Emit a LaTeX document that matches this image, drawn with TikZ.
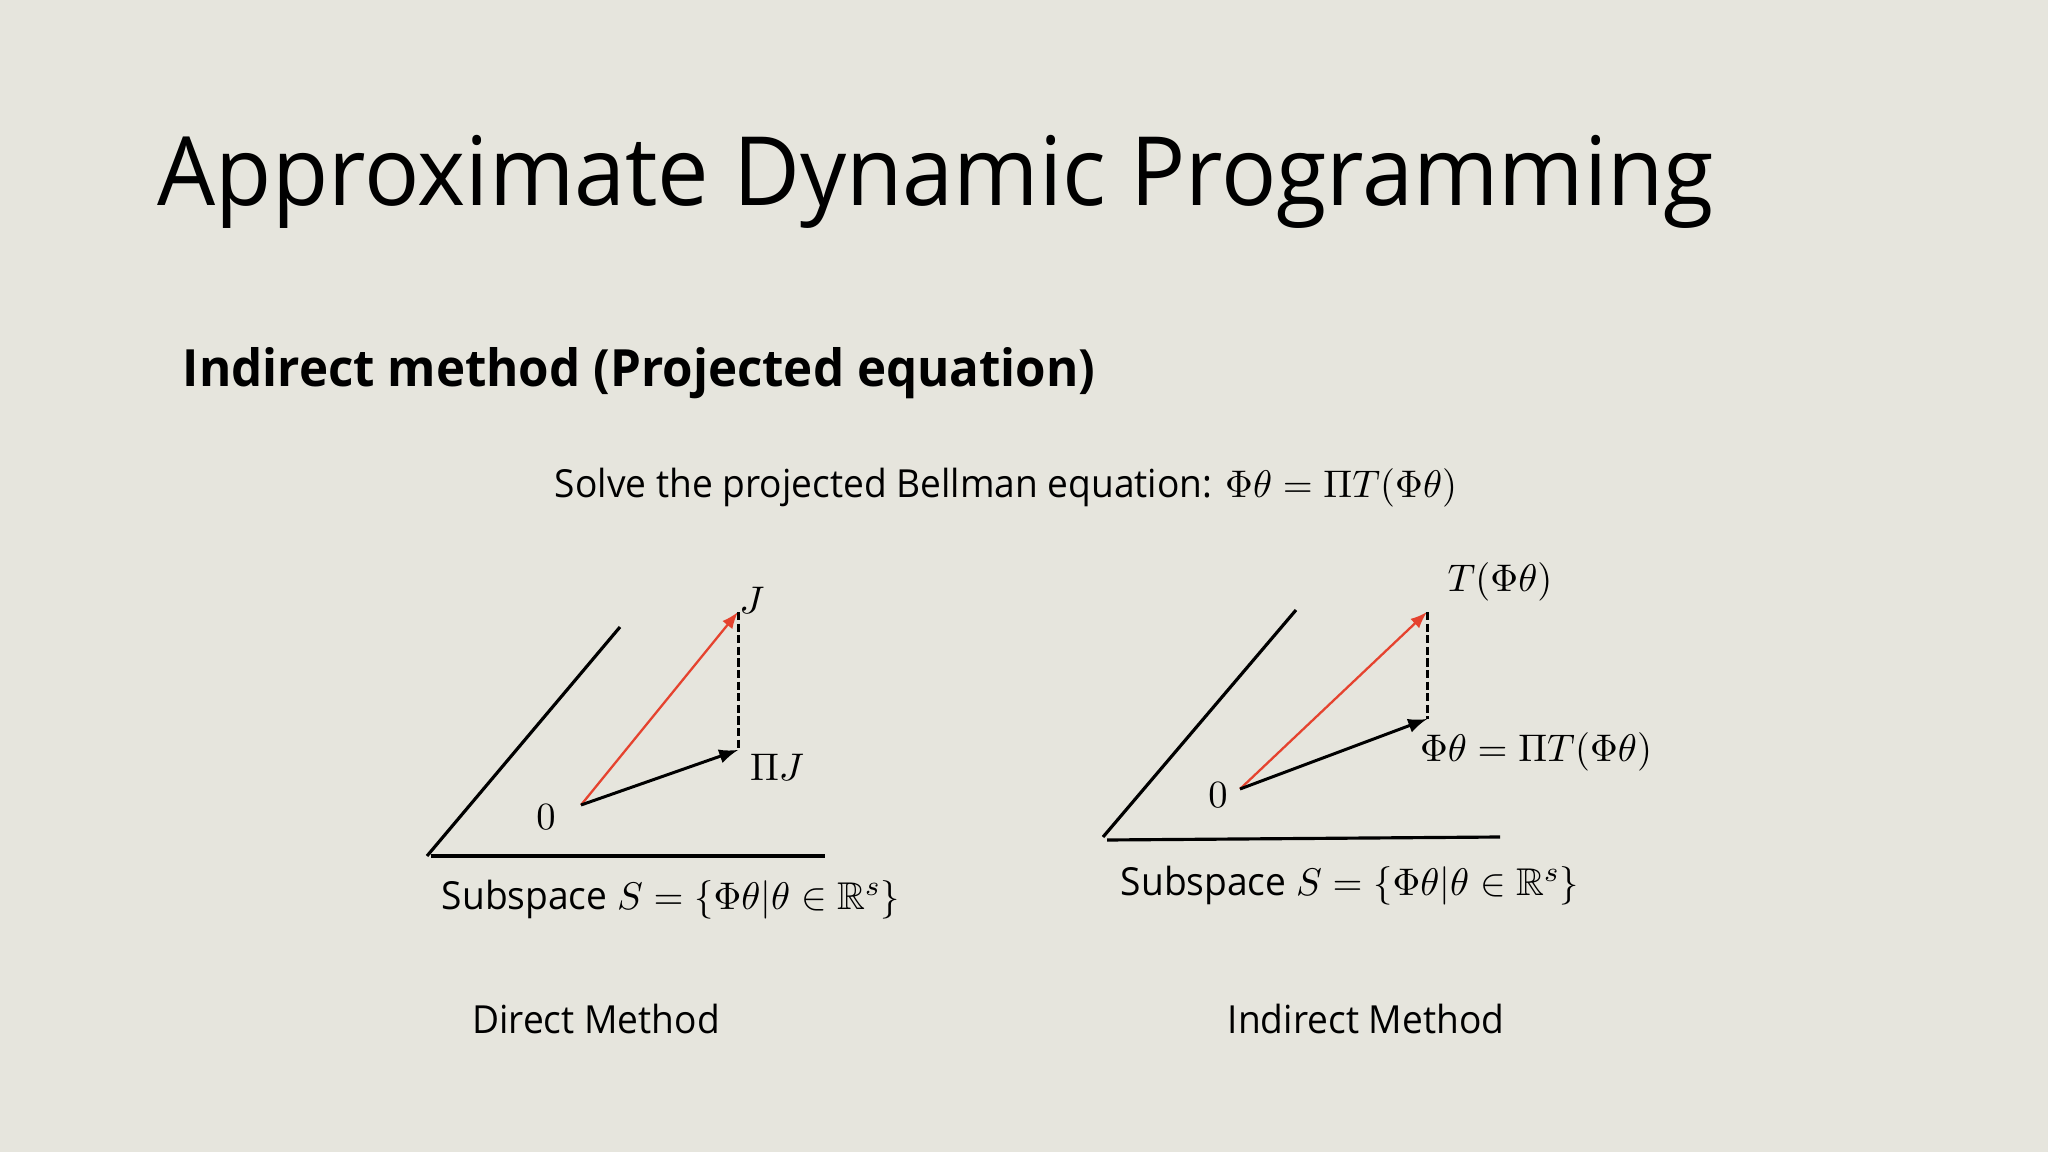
\documentclass[tikz,border=0pt]{standalone}
\usepackage{amsmath}
\usepackage{amssymb}
\usepackage[no-math]{fontspec}
\setmainfont[FakeStretch=0.96]{Open Sans}
\usepackage{tikz}
\definecolor{slidebg}{HTML}{E6E5DD}
\definecolor{arrowred}{HTML}{E5432F}

\begin{document}
\begin{tikzpicture}[x=0.01cm, y=-0.01cm, >=latex,
		plane/.style = {line width=0.9pt},
		proj/.style = {->, line width=0.85pt},
		target/.style = {->, arrowred, line width=0.65pt},
		perp/.style = {dash pattern=on 2.3pt off 1pt, line width=0.85pt},
		lbl/.style = {font=\fontsize{11}{13}\selectfont, inner sep=0pt}]
		\fill[slidebg] (0,0) rectangle (2048,1152);
		\useasboundingbox (0,0) rectangle (2048,1152);

		\node[anchor = base west, inner sep=0pt, font=\fontsize{27.2}{32}\selectfont] (title) at (157,206) {Approximate Dynamic Programming};
		\node[anchor = base west, inner sep=0pt, font=\fontsize{14.6}{18}\selectfont\bfseries] (sub) at (182,387) {Indirect method (Projected equation)};
		\node[lbl, anchor = base] (solve) at (1006,498) {Solve the projected Bellman equation: $\Phi\theta = \Pi T(\Phi\theta)$};

		% direct method
		\coordinate (a1) at (427,856);
		\coordinate (b1) at (620,627);
		\coordinate (c1) at (431,856);
		\coordinate (d1) at (825,856);
		\coordinate (o1) at (581,805);
		\coordinate (J) at (738,612);
		\coordinate (PJ) at (738,750);
		\draw[plane] (a1) -- (b1);
		\draw[plane] (c1) -- (d1);
		\draw[target] (o1) -- (J);
		\draw[proj] (o1) -- (PJ);
		\draw[perp] (J) -- (PJ);
		\node[lbl] (zero1) at (546,817) {$0$};
		\node[lbl] (lJ) at (752,600) {$J$};
		\node[lbl] (lPJ) at (777,767) {$\Pi J$};
		\node[lbl, anchor = base] (space1) at (671,909) {Subspace $S = \{\Phi\theta | \theta \in \mathbb{R}^s\}$};
		\node[lbl, anchor = base] (cap1) at (596,1033) {Direct Method};

		% indirect method
		\coordinate (a2) at (1103,837);
		\coordinate (b2) at (1296,610);
		\coordinate (c2) at (1107,840);
		\coordinate (d2) at (1500,837);
		\coordinate (o2) at (1240,789);
		\coordinate (T) at (1427,612);
		\coordinate (PT) at (1427,719);
		\draw[plane] (a2) -- (b2);
		\draw[plane] (c2) -- (d2);
		\draw[target] (o2) -- (T);
		\draw[proj] (o2) -- (PT);
		\draw[perp] (T) -- (PT);
		\node[lbl] (zero2) at (1218,795) {$0$};
		\node[lbl] (lT) at (1500,582) {$T(\Phi\theta)$};
		\node[lbl] (lPT) at (1536,752) {$\Phi\theta = \Pi T(\Phi\theta)$};
		\node[lbl, anchor = base] (space2) at (1350,895) {Subspace $S = \{\Phi\theta | \theta \in \mathbb{R}^s\}$};
		\node[lbl, anchor = base] (cap2) at (1366,1033) {Indirect Method};
	\end{tikzpicture}
\end{document}
